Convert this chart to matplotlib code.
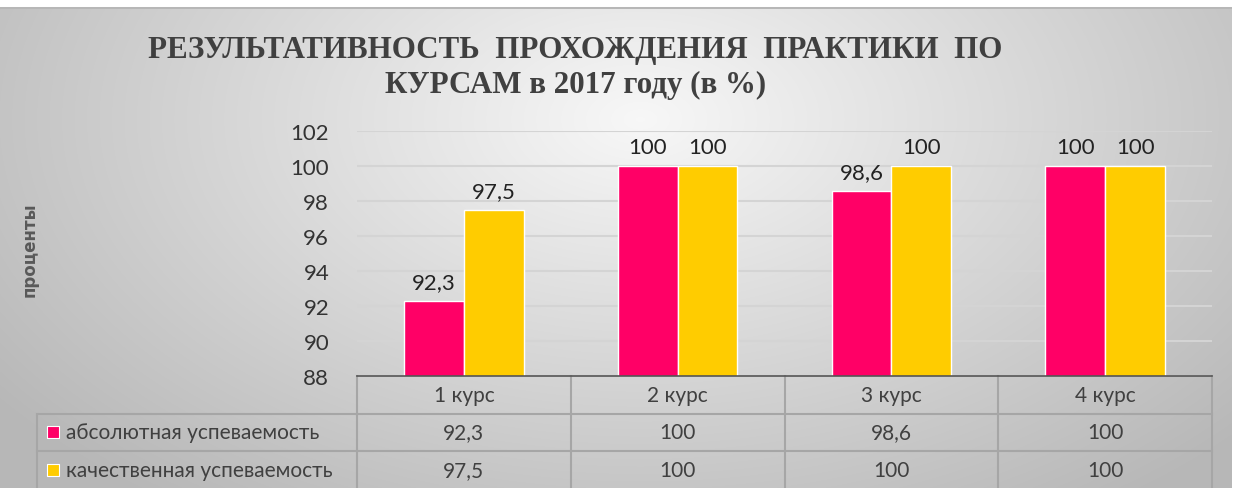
import numpy as np
import matplotlib.pyplot as plt
import matplotlib.transforms as mtransforms

courses = ['1 курс', '2 курс', '3 курс', '4 курс']
series_names = ['абсолютная успеваемость', 'качественная успеваемость']
absolute = [92.3, 100, 98.6, 100]
quality = [97.5, 100, 100, 100]
colors = ['#FF0066', '#FFCC00']

font = ['Lato', 'DejaVu Sans']


def fmt(v):
    return ('%g' % v).replace('.', ',')


W, H = 1238, 489
fig = plt.figure(figsize=(W / 100, H / 100), dpi=100)

# background gradient
bg = fig.add_axes([0, 0, 1, 1])
bg.set_axis_off()
yy, xx = np.mgrid[0:H, 0:W]
d = np.sqrt(((xx - 640) / 700.0) ** 2 + ((yy - 120) / 420.0) ** 2)
g = np.clip(0.97 - 0.22 * d, 0.72, 0.97)
img = np.dstack([g, g, g])
img[:8, :, :] = 1.0
img[:, 1232:, :] = 1.0
img[8:10, :1232, :] = 0.72
bg.imshow(img, extent=[0, W, H, 0], aspect='auto')
bg.set_xlim(0, W)
bg.set_ylim(H, 0)

left, right, top, bottom = 357, 1212, 132, 377
ax = fig.add_axes([left / W, 1 - bottom / H, (right - left) / W, (bottom - top) / H])
ax.patch.set_alpha(0)

x = np.arange(len(courses))
bw = 0.28
ax.bar(x - bw / 2, absolute, bw, color=colors[0], edgecolor='white', linewidth=1, zorder=3)
ax.bar(x + bw / 2, quality, bw, color=colors[1], edgecolor='white', linewidth=1, zorder=3)
for xi, v in zip(x, absolute):
    ax.text(xi - bw / 2, v + 0.5, fmt(v), ha='center', va='bottom', fontsize=16,
            family=font, color='#222222')
for xi, v in zip(x, quality):
    ax.text(xi + bw / 2, v + 0.5, fmt(v), ha='center', va='bottom', fontsize=16,
            family=font, color='#222222')

ax.set_ylim(88, 102)
ax.set_xlim(-0.5, len(courses) - 0.5)
ax.set_yticks(range(88, 103, 2))
ax.set_yticklabels([str(t) for t in range(88, 103, 2)], family=font, fontsize=16, color='#333333')
ax.tick_params(axis='y', length=0, pad=20)
ax.set_xticks([])
ax.grid(axis='y', color='#d4d4d4', linewidth=1.5, zorder=0)
for s in ['top', 'right', 'left']:
    ax.spines[s].set_visible(False)
ax.spines['bottom'].set_color('#555555')
ax.spines['bottom'].set_linewidth(1.2)
ax.spines['bottom'].set_zorder(4)

# data table under the axes
tr = mtransforms.blended_transform_factory(ax.transData, ax.transAxes)
rh = 37.5 / (bottom - top)
lc = '#a6a6a6'
xl = -0.5 - (left - 37) / ((right - left) / len(courses))
kw = dict(transform=tr, clip_on=False, color=lc, linewidth=1.5)
# horizontal lines
ax.plot([-0.5, len(courses) - 0.5], [-rh, -rh], **kw)
ax.plot([xl, -0.5], [-rh, -rh], **kw)
ax.plot([xl, len(courses) - 0.5], [-2 * rh, -2 * rh], **kw)
# vertical lines
for i in range(len(courses) + 1):
    ax.plot([i - 0.5, i - 0.5], [0, -3.2 * rh], **kw)
ax.plot([xl, xl], [-rh, -3.2 * rh], **kw)

for xi, c in zip(x, courses):
    ax.text(xi, -0.5 * rh, c, transform=tr, ha='center', va='center', fontsize=15,
            family=font, color='#404040')
rows = [absolute, quality]
for r, (name, vals) in enumerate(zip(series_names, rows)):
    yc = -(1.5 + r) * rh
    for xi, v in zip(x, vals):
        ax.text(xi, yc, fmt(v), transform=tr, ha='center', va='center', fontsize=15,
                family=font, color='#404040')
    ax.text(xl + 0.135, yc, name, transform=tr, ha='left', va='center', fontsize=15,
            family=font, color='#404040')
    ax.scatter([xl + 0.075], [yc], transform=tr, marker='s', s=80, color=colors[r],
               edgecolor='white', linewidth=0.8, clip_on=False, zorder=5)

fig.text(0.465, 0.897, 'РЕЗУЛЬТАТИВНОСТЬ  ПРОХОЖДЕНИЯ  ПРАКТИКИ  ПО', ha='center', va='center',
         family='Liberation Serif', fontweight='bold', fontsize=22.3, color='#404040')
fig.text(0.465, 0.826, 'КУРСАМ в 2017 году (в %)', ha='center', va='center',
         family='Liberation Serif', fontweight='bold', fontsize=22.3, color='#404040')
fig.text(0.024, 0.49, 'проценты', rotation=90, ha='center', va='center', fontsize=12,
         fontweight='bold', color='#595959', family='DejaVu Sans')

fig.savefig('out.png', dpi=100)
